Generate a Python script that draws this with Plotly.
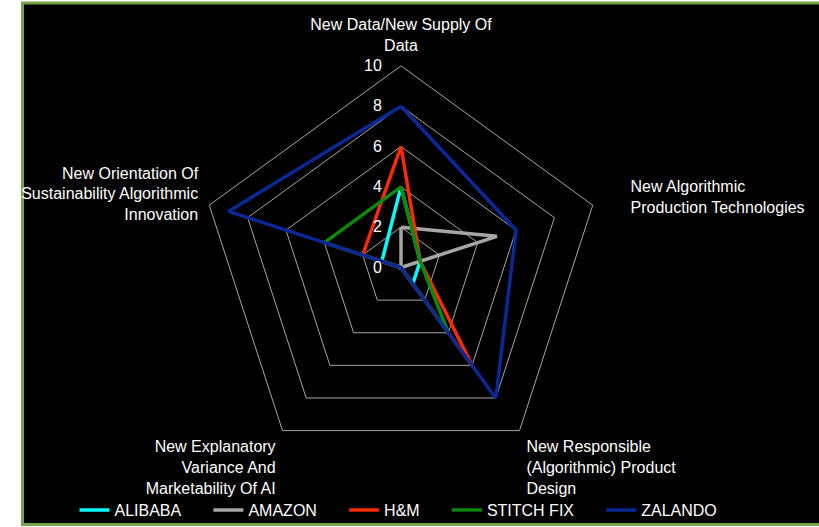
import plotly.graph_objects as go

NB = "\u00a0"
categories = [
    "New Data/New Supply Of<br>Data",
    NB * 6 + "New Algorithmic<br>" + NB * 6 + "Production Technologies",
    "New Responsible<br>(Algorithmic) Product<br>Design",
    "New Explanatory<br>Variance And<br>Marketability Of AI",
    "New Orientation Of<br>Sustainability Algorithmic<br>Innovation",
]
series_names = ["ALIBABA", "AMAZON", "H&M", "STITCH FIX", "ZALANDO"]
alibaba = [4, 1, 1, 0, 1]
amazon = [2, 5, 0, 0, 0]
hm = [6, 1, 6, 0, 2]
stitch_fix = [4, 1, 4, 0, 4]
zalando = [8, 6, 8, 0, 9]
series_values = [alibaba, amazon, hm, stitch_fix, zalando]
colors = ["#00FFFF", "#A6A6A6", "#FF2A00", "#0A8A0A", "#0A2896"]
radial_ticks = [0, 2, 4, 6, 8, 10]

W, H = 819, 527
cx, cy, R = 401, 268, 202
pad = NB * 5

fig = go.Figure()
for name, vals, col in zip(series_names, series_values, colors):
    fig.add_trace(go.Scatterpolar(
        r=vals + vals[:1],
        theta=categories + categories[:1],
        mode="lines",
        name=name + pad,
        line=dict(color=col, width=3.5),
    ))

fig.update_layout(
    width=W, height=H,
    margin=dict(l=0, r=0, t=0, b=0),
    paper_bgcolor="white",
    font=dict(family="Liberation Sans, Arial, sans-serif", size=16, color="white"),
    shapes=[dict(
        type="rect", xref="paper", yref="paper", layer="below",
        x0=22.5 / W, x1=1.02, y0=1 - 525.5 / H, y1=1 - 3 / H,
        fillcolor="black", line=dict(color="#77A347", width=3),
    )],
    polar=dict(
        domain=dict(x=[(cx - R) / W, (cx + R) / W], y=[1 - (cy + R) / H, 1 - (cy - R) / H]),
        bgcolor="rgba(0,0,0,0)",
        gridshape="linear",
        radialaxis=dict(
            range=[0, 10], tickvals=radial_ticks, angle=90, side="counterclockwise",
            showline=False, gridcolor="#A6A6A6", gridwidth=1,
            ticks="outside", ticklen=13, tickcolor="rgba(0,0,0,0)",
            tickfont=dict(size=16, color="white"), tickangle=90,
        ),
        angularaxis=dict(
            direction="clockwise", rotation=90, showgrid=False,
            showline=True, linecolor="#A6A6A6", linewidth=1,
            ticks="outside", ticklen=8, tickcolor="rgba(0,0,0,0)",
            tickfont=dict(size=16, color="white"),
        ),
    ),
    legend=dict(
        orientation="h", x=0.5, xanchor="center", y=1 - 511 / H, yanchor="middle",
        font=dict(size=16, color="white"), bgcolor="rgba(0,0,0,0)",
        itemwidth=30, tracegroupgap=0,
    ),
)

fig.write_html("out.html")
